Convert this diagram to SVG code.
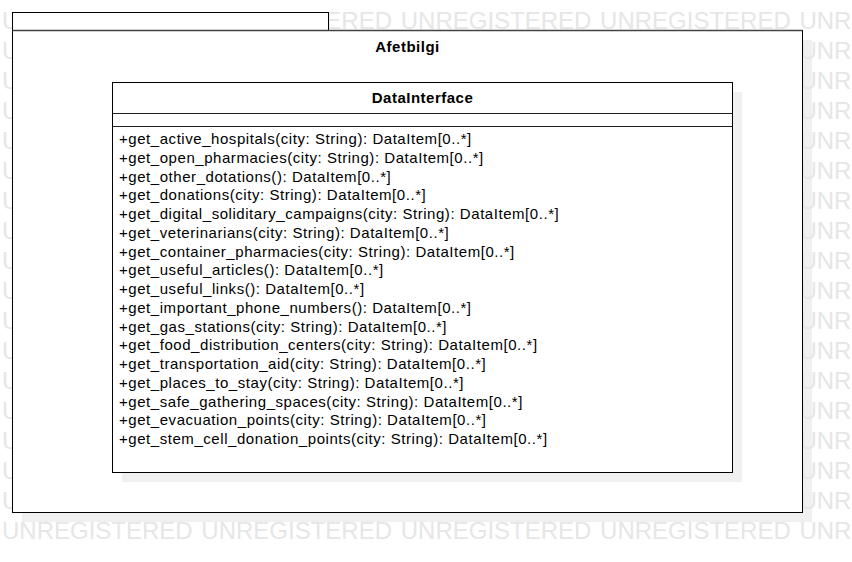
<svg xmlns="http://www.w3.org/2000/svg" xmlns:xlink="http://www.w3.org/1999/xlink" width="852" height="562" viewBox="0 0 852 562">
<style>
.wm{font-family:"Liberation Sans",Arial,sans-serif;font-size:24px;fill:#e6e6e6;word-spacing:2px}
.shadow{fill:#f0f0f0;stroke:none}
.box{fill:#ffffff;stroke:#000000;stroke-width:1}
.sep{stroke:#222222;stroke-width:1;fill:none}
.title{font-family:"Liberation Sans",Arial,sans-serif;font-size:15px;font-weight:bold;fill:#000;text-anchor:middle;letter-spacing:0.5px}
.op{font-family:"Liberation Sans",Arial,sans-serif;font-size:15px;fill:#000;letter-spacing:0.55px}
</style>
<defs>
<text id="wmrow" class="wm" x="2" y="0">UNREGISTERED UNREGISTERED UNREGISTERED UNREGISTERED UNR</text>
</defs>
<rect width="852" height="562" fill="#ffffff"/>
<g id="shadows">
<rect class="shadow" x="22" y="40" width="790" height="482"/>
</g>
<g id="watermark">
<use xlink:href="#wmrow" y="29"/>
<use xlink:href="#wmrow" y="59"/>
<use xlink:href="#wmrow" y="89"/>
<use xlink:href="#wmrow" y="119"/>
<use xlink:href="#wmrow" y="149"/>
<use xlink:href="#wmrow" y="179"/>
<use xlink:href="#wmrow" y="209"/>
<use xlink:href="#wmrow" y="239"/>
<use xlink:href="#wmrow" y="269"/>
<use xlink:href="#wmrow" y="299"/>
<use xlink:href="#wmrow" y="329"/>
<use xlink:href="#wmrow" y="359"/>
<use xlink:href="#wmrow" y="389"/>
<use xlink:href="#wmrow" y="419"/>
<use xlink:href="#wmrow" y="449"/>
<use xlink:href="#wmrow" y="479"/>
<use xlink:href="#wmrow" y="509"/>
<use xlink:href="#wmrow" y="539"/>
</g>
<g id="package-afetbilgi">
<rect class="box" x="12.5" y="12.5" width="316" height="18"/>
<rect class="box" x="12.5" y="30.5" width="790" height="482"/>
<line x1="12.5" y1="30.5" x2="802.5" y2="30.5" stroke="#444" stroke-width="1.5"/>
<text class="title" x="407.5" y="52">Afetbilgi</text>
</g>
<g id="class-datainterface">
<rect class="shadow" x="122" y="92" width="620" height="390"/>
<rect class="box" x="112.5" y="82.5" width="620" height="390"/>
<line class="sep" x1="112.5" y1="113.5" x2="732.5" y2="113.5"/>
<line class="sep" x1="112.5" y1="126.5" x2="732.5" y2="126.5"/>
<text class="title" x="422.5" y="103">DataInterface</text>
<text class="op" x="119" y="144">+get_active_hospitals(city: String): DataItem[0..*]</text>
<text class="op" x="119" y="162.75">+get_open_pharmacies(city: String): DataItem[0..*]</text>
<text class="op" x="119" y="181.5">+get_other_dotations(): DataItem[0..*]</text>
<text class="op" x="119" y="200.25">+get_donations(city: String): DataItem[0..*]</text>
<text class="op" x="119" y="219">+get_digital_soliditary_campaigns(city: String): DataItem[0..*]</text>
<text class="op" x="119" y="237.75">+get_veterinarians(city: String): DataItem[0..*]</text>
<text class="op" x="119" y="256.5">+get_container_pharmacies(city: String): DataItem[0..*]</text>
<text class="op" x="119" y="275.25">+get_useful_articles(): DataItem[0..*]</text>
<text class="op" x="119" y="294">+get_useful_links(): DataItem[0..*]</text>
<text class="op" x="119" y="312.75">+get_important_phone_numbers(): DataItem[0..*]</text>
<text class="op" x="119" y="331.5">+get_gas_stations(city: String): DataItem[0..*]</text>
<text class="op" x="119" y="350.25">+get_food_distribution_centers(city: String): DataItem[0..*]</text>
<text class="op" x="119" y="369">+get_transportation_aid(city: String): DataItem[0..*]</text>
<text class="op" x="119" y="387.75">+get_places_to_stay(city: String): DataItem[0..*]</text>
<text class="op" x="119" y="406.5">+get_safe_gathering_spaces(city: String): DataItem[0..*]</text>
<text class="op" x="119" y="425.25">+get_evacuation_points(city: String): DataItem[0..*]</text>
<text class="op" x="119" y="444">+get_stem_cell_donation_points(city: String): DataItem[0..*]</text>
</g>
<g id="connectors"/>
</svg>
